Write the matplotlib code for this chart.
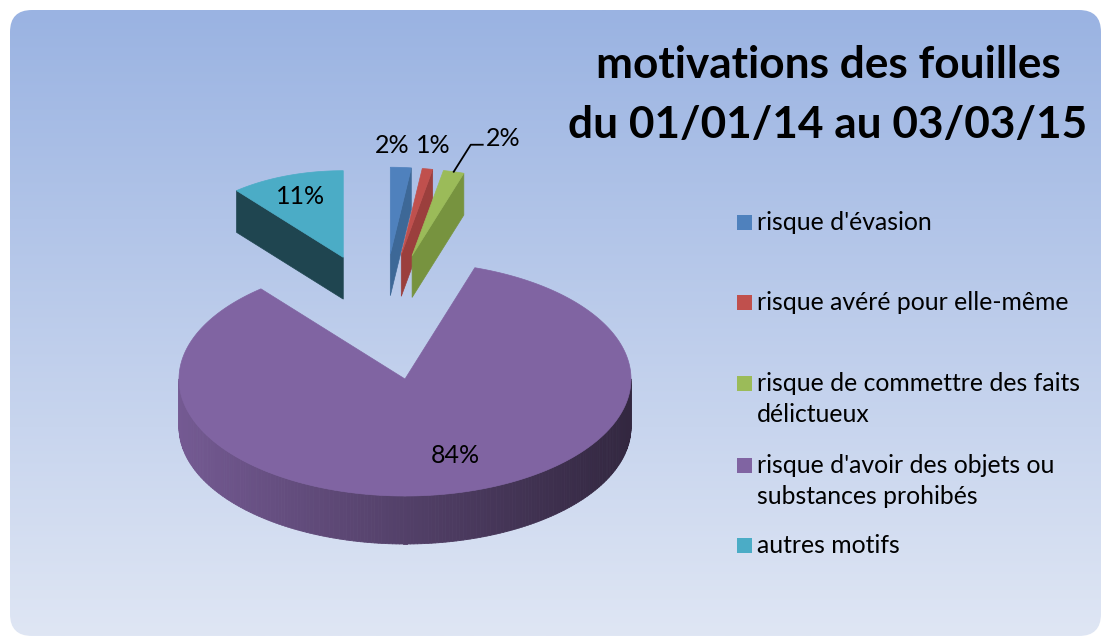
import numpy as np
import matplotlib
matplotlib.use("Agg")
import matplotlib.pyplot as plt
from matplotlib.patches import FancyBboxPatch, Polygon, Rectangle
from matplotlib.collections import PolyCollection
from matplotlib.colors import to_rgb

plt.rcParams["font.family"] = ["Lato", "DejaVu Sans"]

# ---- data
categories = ["risque d'évasion", "risque avéré pour elle-même",
              "risque de commettre des faits\ndélictueux",
              "risque d'avoir des objets ou\nsubstances prohibés",
              "autres motifs"]
values = [2, 1, 2, 84, 11]
title = "motivations des fouilles\ndu 01/01/14 au 03/03/15"

# ---- style (Excel 2007 palette, 3-D exploded pie)
TOP = ["#4f81bd", "#c0504d", "#9bbb59", "#8064a2", "#4bacc6"]
WALL = ["#3d6897", "#9b3f3d", "#77933f", "#54416a", "#1f4550"]
EXPLODE = [0.7, 0.7, 0.7, 0.0, 0.7]
DRAW_ORDER = [4, 0, 1, 2, 3]                 # back pieces first
W, H = 1103, 638
CX, CY, RX, RY, DEPTH = 405, 379, 226, 117, 48
VX, VY = 320, 130                            # exploded pieces recede toward this point
LBL = [("out", -9, -22), ("out", 6, -23), ("lead", 0, 0), ("in", 20, -6), ("in", 0, 0)]
LBL_R = [1.0, 1.0, 1.0, 0.72, 0.75]
FS_PCT, FS_LEG, FS_TITLE = 18, 17.8, 31.8


def proj(X, Y, z, s):
    u = CX + RX * X
    v = CY - RY * Y + z
    return VX + s * (u - VX), VY + s * (v - VY)


fig = plt.figure(figsize=(W / 100, H / 100), dpi=100)
ax = fig.add_axes([0, 0, 1, 1])
ax.set_xlim(0, W); ax.set_ylim(H, 0); ax.axis("off")

# background: rounded panel with vertical blue gradient
panel = FancyBboxPatch((10, 10), 1091, 626, boxstyle="round,pad=0,rounding_size=22",
                       fc="none", ec="none")
ax.add_patch(panel)
top_c, bot_c = np.array(to_rgb("#9ab3e2")), np.array(to_rgb("#dfe6f4"))
g = np.linspace(0, 1, 256)[:, None, None]
grad = top_c * (1 - g) + bot_c * g
im = ax.imshow(grad, extent=[10, 1101, 636, 10], aspect="auto", zorder=0)
im.set_clip_path(panel)

tot = float(sum(values))
edges = np.concatenate([[0], np.cumsum(values)]) / tot * 360.0
geo = {}
for i in range(len(values)):
    t1, t2 = edges[i], edges[i + 1]
    mid = np.radians((t1 + t2) / 2)
    e = EXPLODE[i]
    s = 1.0 / (1.0 + 0.5 * e)
    geo[i] = (t1, t2, mid, e * np.sin(mid), e * np.cos(mid), s)

for i in DRAW_ORDER:
    t1, t2, mid, ox, oy, s = geo[i]
    dz = DEPTH * (0.5 + 0.5 * s) / s           # far pieces keep a bit more thickness
    th = np.radians(np.linspace(t1, t2, max(int((t2 - t1) * 2), 8)))
    vt = proj(ox, oy, 0, s); vb = proj(ox, oy, dz, s)
    # radial walls
    for t, vis in ((t1, np.sin(np.radians(t1)) < -1e-6), (t2, np.sin(np.radians(t2)) > 1e-6)):
        if vis:
            r = np.radians(t)
            pt = proj(ox + np.sin(r), oy + np.cos(r), 0, s)
            pb = proj(ox + np.sin(r), oy + np.cos(r), dz, s)
            ax.add_patch(Polygon([vt, pt, pb, vb], closed=True, fc=WALL[i], ec=WALL[i], lw=0.5, zorder=2))
    # curved outer wall (front half only), shaded light->dark left to right
    a1, a2 = max(t1, 90), min(t2, 270)
    if a2 > a1:
        tt = np.radians(np.linspace(a1, a2, 200))
        xs, ys = ox + np.sin(tt), oy + np.cos(tt)
        pts_t = np.array(proj(xs, ys, 0, s)).T
        pts_b = np.array(proj(xs, ys, dz, s)).T
        quads, cols = [], []
        base = np.array(to_rgb(WALL[i]))
        for k in range(len(tt) - 1):
            quads.append([pts_t[k], pts_t[k + 1], pts_b[k + 1], pts_b[k]])
            f = (1 - np.sin(tt[k])) / 2          # 1 at left, 0 at right
            cols.append(np.clip(base * (0.6 + 0.78 * f), 0, 1))
        ax.add_collection(PolyCollection(quads, facecolors=cols, edgecolors=cols, lw=0.6, zorder=2))
    # top face
    arc = np.array(proj(ox + np.sin(th), oy + np.cos(th), 0, s)).T
    ax.add_patch(Polygon(np.vstack([[vt], arc]), closed=True, fc=TOP[i], ec=TOP[i], lw=0.5, zorder=3))

    # percent label
    kind, dx, dy = LBL[i]
    txt = f"{values[i] / tot * 100:.0f}%"
    r = LBL_R[i]
    px, py = proj(ox + r * np.sin(mid), oy + r * np.cos(mid), 0, s)
    if kind == "lead":
        x2, y2 = px + 17, py - 27
        ax.plot([px, x2, x2 + 12], [py, y2, y2], color="black", lw=1.3, zorder=4)
        ax.text(x2 + 15, y2 - 6, txt, fontsize=FS_PCT, ha="left", va="center", zorder=5)
    else:
        ax.text(px + dx, py + dy, txt, fontsize=FS_PCT, ha="center", va="center", zorder=5)

# title, one line at a time
for j, line in enumerate(title.split("\n")):
    ax.text(828, 78 + 60 * j, line, fontsize=FS_TITLE, fontweight="bold",
            ha="center", va="baseline", zorder=5)

# legend
leg_y = [222, 302, 383, 465, 545]
for i, lab in enumerate(categories):
    ax.add_patch(Rectangle((737, leg_y[i] - 7.5), 15, 15, fc=TOP[i], ec="none", zorder=4))
    for j, line in enumerate(lab.split("\n")):
        ax.text(757, leg_y[i] + 8 + 31 * j, line, fontsize=FS_LEG, ha="left", va="baseline", zorder=5)

fig.savefig("out.png", dpi=100, facecolor="white")
